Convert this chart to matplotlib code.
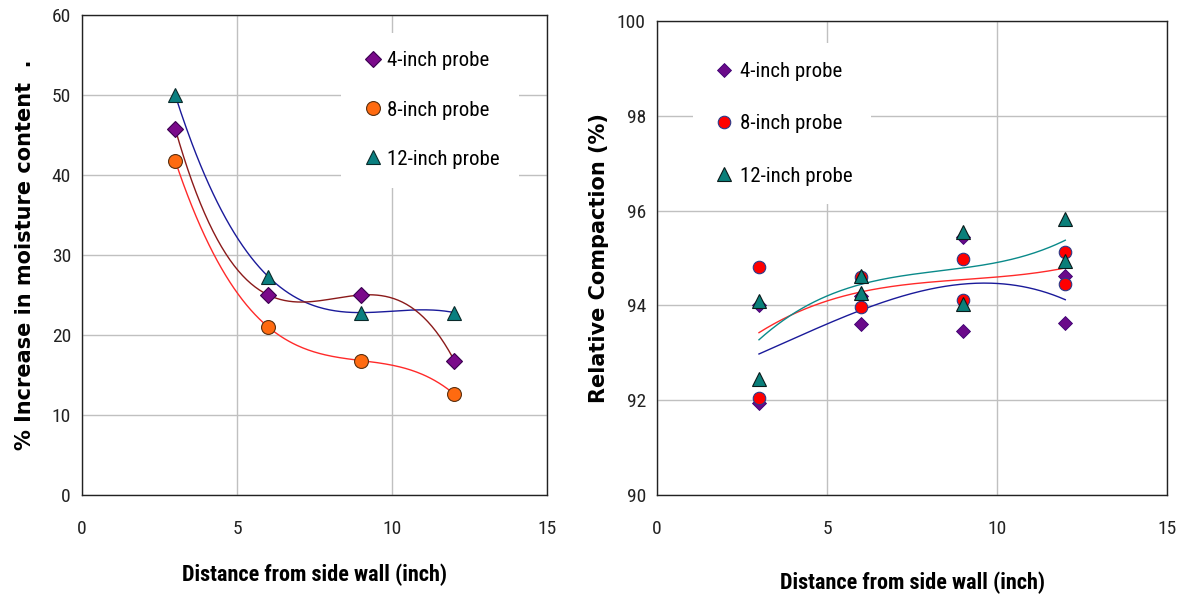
import numpy as np
import matplotlib
matplotlib.use("Agg")
import matplotlib.pyplot as plt
from matplotlib import font_manager as fm

# ---------------- data ----------------
series_labels = ["4-inch probe", "8-inch probe", "12-inch probe"]

# Left chart: % increase in moisture content
x_left = [3, 6, 9, 12]
moist_4 = [45.8, 25.0, 25.0, 16.8]
moist_8 = [41.8, 21.0, 16.8, 12.6]
moist_12 = [50.0, 27.3, 22.8, 22.8]

# Right chart: relative compaction (two readings per location)
x_right = [3, 3, 6, 6, 9, 9, 12, 12]
comp_4 = [94.0, 91.95, 94.2, 93.6, 95.45, 93.45, 94.62, 93.62]
comp_8 = [94.8, 92.05, 94.6, 93.97, 94.97, 94.12, 95.13, 94.45]
comp_12 = [94.1, 92.45, 94.62, 94.27, 95.55, 94.03, 95.82, 94.93]

left_yticks = [0, 10, 20, 30, 40, 50, 60]
right_yticks = [90, 92, 94, 96, 98, 100]
xticks = [0, 5, 10, 15]

# ---------------- fonts ----------------
names = {f.name for f in fm.fontManager.ttflist}
narrow = None
for cand in ["Liberation Sans Narrow", "Roboto Condensed", "Open Sans Condensed", "DejaVu Sans Condensed"]:
    if cand in names:
        narrow = cand
        break
if narrow is None:
    narrow = "DejaVu Sans"
tick_font = [narrow, "DejaVu Sans"]
label_font = ["DejaVu Sans"]

fig = plt.figure(figsize=(11.9, 6.0), dpi=100)
fig.patch.set_facecolor("white")

ax1 = fig.add_axes([0.069, 0.175, 0.391, 0.800])
ax2 = fig.add_axes([0.552, 0.175, 0.429, 0.790])

grid_c = "#c0c0c0"

def style_axes(ax, yticks, ylim):
    ax.set_xlim(0, 15)
    ax.set_ylim(*ylim)
    ax.set_xticks(xticks)
    ax.set_yticks(yticks)
    ax.grid(True, color=grid_c, linewidth=1.0)
    ax.set_axisbelow(True)
    for s in ax.spines.values():
        s.set_color("#222222")
        s.set_linewidth(1.0)
    ax.tick_params(length=0, labelsize=14, pad=8)
    ax.tick_params(axis="x", pad=18)
    for lab in ax.get_xticklabels() + ax.get_yticklabels():
        lab.set_family(tick_font)
        lab.set_color("#222222")

style_axes(ax1, left_yticks, (0, 60))
style_axes(ax2, right_yticks, (90, 100))

# ---------------- left chart (cubic trendlines) ----------------
xs = np.linspace(3, 12, 200)
c4 = np.polyfit(x_left, moist_4, 3)
c8 = np.polyfit(x_left, moist_8, 3)
c12 = np.polyfit(x_left, moist_12, 3)
ax1.plot(xs, np.polyval(c12, xs), color="#1a1a9a", lw=1.0, zorder=2)
ax1.plot(xs, np.polyval(c4, xs), color="#8b1a1a", lw=1.0, zorder=2)
ax1.plot(xs, np.polyval(c8, xs), color="#ff2a2a", lw=1.0, zorder=2)

h1 = ax1.plot(x_left, moist_4, ls="none", marker="D", ms=8.5, mfc="#7a0a8a",
              mec="#3a0050", mew=0.8, zorder=3, label=series_labels[0])[0]
h2 = ax1.plot(x_left, moist_8, ls="none", marker="o", ms=10, mfc="#ff6a10",
              mec="#5a3010", mew=0.8, zorder=3, label=series_labels[1])[0]
h3 = ax1.plot(x_left, moist_12, ls="none", marker="^", ms=10, mfc="#0a7f80",
              mec="#0a2a2a", mew=0.8, zorder=3, label=series_labels[2])[0]

leg1 = ax1.legend(handles=[h1, h2, h3], loc="upper left", bbox_to_anchor=(0.535, 0.985),
                  frameon=True, facecolor="white", edgecolor="white", framealpha=1,
                  fancybox=False, labelspacing=1.45, handletextpad=0.1, handlelength=1.2,
                  borderpad=0.9, prop={"family": tick_font, "size": 15})
leg1.get_frame().set_linewidth(0)

ax1.set_ylabel("% Increase in moisture content  .", family=label_font,
               fontsize=15, fontweight="bold", labelpad=12)
ax1.set_xlabel("Distance from side wall (inch)", family=tick_font,
               fontsize=16, fontweight="bold", labelpad=18)

# ---------------- right chart (cubic trendlines) ----------------
q4 = np.polyfit(x_right, comp_4, 3)
q8 = np.polyfit(x_right, comp_8, 3)
q12 = np.polyfit(x_right, comp_12, 3)
ax2.plot(xs, np.polyval(q4, xs), color="#1a1a9a", lw=1.0, zorder=2)
ax2.plot(xs, np.polyval(q8, xs), color="#ff2a2a", lw=1.0, zorder=2)
ax2.plot(xs, np.polyval(q12, xs), color="#0a8a8a", lw=1.0, zorder=2)

g1 = ax2.plot(x_right, comp_4, ls="none", marker="D", ms=7.5, mfc="#6a0a8a",
              mec="#3a0070", mew=0.6, zorder=3, label=series_labels[0])[0]
g2 = ax2.plot(x_right, comp_8, ls="none", marker="o", ms=9, mfc="#ff0000",
              mec="#2a3a8a", mew=0.8, zorder=4, label=series_labels[1])[0]
g3 = ax2.plot(x_right, comp_12, ls="none", marker="^", ms=9.5, mfc="#0a7f7a",
              mec="#0a1a1a", mew=0.8, zorder=5, label=series_labels[2])[0]

leg2 = ax2.legend(handles=[g1, g2, g3], loc="upper left", bbox_to_anchor=(0.05, 0.975),
                  frameon=True, facecolor="white", edgecolor="white", framealpha=1,
                  fancybox=False, labelspacing=1.6, handletextpad=0.15, handlelength=1.2,
                  borderpad=0.9, prop={"family": tick_font, "size": 15})
leg2.get_frame().set_linewidth(0)

ax2.set_ylabel("Relative Compaction (%)", family=label_font,
               fontsize=15, fontweight="bold", labelpad=6)
ax2.set_xlabel("Distance from side wall (inch)", family=tick_font,
               fontsize=16, fontweight="bold", labelpad=24)

fig.savefig("out.png", dpi=100, facecolor="white")
